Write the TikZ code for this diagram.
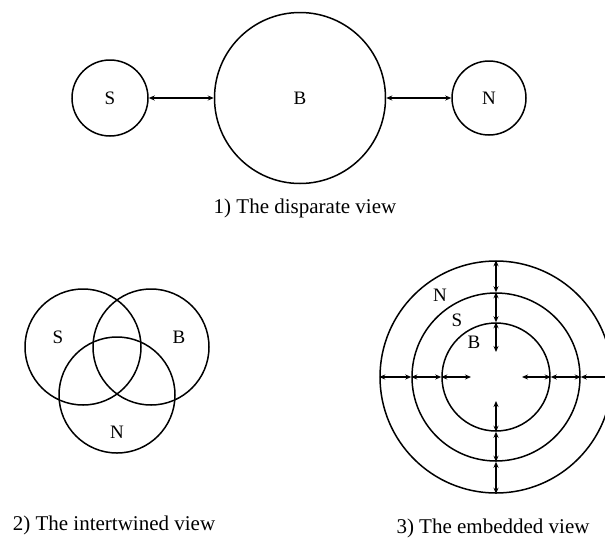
\documentclass[tikz,border=0pt]{standalone}
\usepackage{fontspec}
\setmainfont{Liberation Serif}
\usetikzlibrary{arrows.meta}

\tikzset{
  ring/.style={circle, draw, line width=1.5pt, inner sep=0pt},
  link/.style={{Stealth[length=6pt,width=5pt]}-{Stealth[length=6pt,width=5pt]}, line width=1.3pt},
  tag/.style={font=\fontsize{19}{21}\selectfont},
  caption/.style={font=\fontsize{21}{24}\selectfont}
}

\begin{document}
\begin{tikzpicture}[x=1pt, y=-1pt]
  \useasboundingbox (0,0) rectangle (605,541);
  \clip (0,0) rectangle (605,541);

  % 1) disparate
  \node[ring, minimum size=76pt, tag]  (s) at (110,98) {S};
  \node[ring, minimum size=171pt, tag] (b) at (300,98) {B};
  \node[ring, minimum size=74pt, tag]  (n) at (489,98) {N};
  \draw[link] (s) -- (b);
  \draw[link, line width=1.7pt] (b) -- (n);
  \node[caption] (cap1) at (305,208) {1) The disparate view};

  % 2) intertwined
  \draw[line width=1.5pt] (83,347) circle[radius=58];
  \draw[line width=1.5pt] (151,347) circle[radius=58];
  \draw[line width=1.5pt] (117,395) circle[radius=58];
  \node[tag] (vs) at (58,337) {S};
  \node[tag] (vb) at (179,337) {B};
  \node[tag] (vn) at (117,432) {N};
  \node[caption] (cap2) at (114,525) {2) The intertwined view};

  % 3) embedded
  \node[ring, minimum size=232pt] (eout) at (496,377) {};
  \node[ring, minimum size=168pt] (emid) at (496,377) {};
  \node[ring, minimum size=108pt] (ein)  at (496,377) {};
  \coordinate (cw) at (471,377);
  \coordinate (ce) at (522,377);
  \coordinate (cn) at (496,352);
  \coordinate (cs) at (496,401);
  \draw[link] (eout.west) -- (emid.west);
  \draw[link] (emid.west) -- (ein.west);
  \draw[link] (ein.west) -- (cw);
  \draw[link] (eout.east) -- (emid.east);
  \draw[link] (emid.east) -- (ein.east);
  \draw[link] (ein.east) -- (ce);
  \draw[link] (eout.north) -- (emid.north);
  \draw[link] (emid.north) -- (ein.north);
  \draw[link] (ein.north) -- (cn);
  \draw[link] (eout.south) -- (emid.south);
  \draw[link] (emid.south) -- (ein.south);
  \draw[link] (ein.south) -- (cs);
  \node[tag] (en) at (440,295) {N};
  \node[tag] (es) at (457,320) {S};
  \node[tag] (eb) at (474,342) {B};
  \node[caption] (cap3) at (493,528) {3) The embedded view};
\end{tikzpicture}
\end{document}
